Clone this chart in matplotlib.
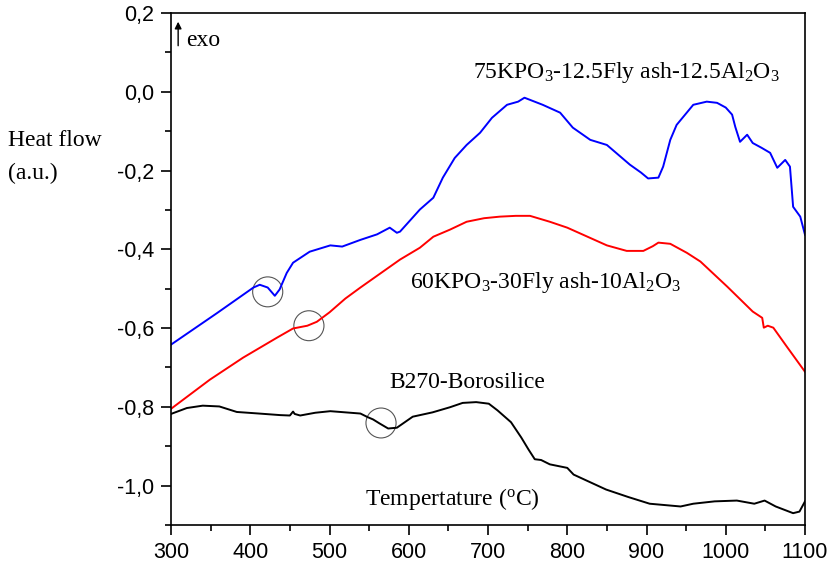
import matplotlib.pyplot as plt
from matplotlib.patches import Ellipse
from matplotlib.ticker import MultipleLocator, FuncFormatter

serif = 'Liberation Serif'
plt.rcParams['font.family'] = 'Liberation Sans'
plt.rcParams['mathtext.fontset'] = 'custom'
plt.rcParams['mathtext.rm'] = serif
plt.rcParams['mathtext.it'] = serif + ':italic'

# DSC traces, temperature in degC and heat flow in a.u.
blue_t = [300, 358, 404, 412, 422, 431, 437, 446, 454, 475, 501, 516, 539,
          560, 576, 585, 589, 614, 631, 643, 658, 673, 690, 705, 724, 738,
          746, 769, 791, 807, 829, 850, 879, 893, 902, 915, 921, 930, 938,
          959, 976, 989, 1000, 1008, 1012, 1018, 1027, 1034, 1045, 1056, 1065,
          1075, 1081, 1085, 1094, 1100]
blue_hf = [-0.642, -0.562, -0.497, -0.490, -0.497, -0.518, -0.502, -0.460,
           -0.434, -0.406, -0.390, -0.393, -0.376, -0.362, -0.345, -0.358,
           -0.355, -0.299, -0.269, -0.218, -0.168, -0.135, -0.104, -0.066,
           -0.033, -0.025, -0.015, -0.033, -0.053, -0.091, -0.122, -0.135,
           -0.185, -0.205, -0.220, -0.218, -0.190, -0.122, -0.084, -0.033,
           -0.025, -0.028, -0.040, -0.058, -0.089, -0.127, -0.109, -0.130,
           -0.142, -0.155, -0.193, -0.173, -0.190, -0.292, -0.317, -0.363]

red_t = [300, 349, 391, 434, 454, 472, 484, 500, 520, 539, 589, 614, 631,
         652, 673, 695, 715, 735, 753, 778, 800, 820, 850, 875, 896, 908,
         915, 930, 951, 968, 1002, 1034, 1046, 1048, 1053, 1060, 1077, 1100]
red_hf = [-0.805, -0.731, -0.675, -0.624, -0.601, -0.594, -0.584, -0.560,
          -0.525, -0.497, -0.426, -0.396, -0.368, -0.350, -0.330, -0.321,
          -0.317, -0.315, -0.315, -0.330, -0.345, -0.363, -0.390, -0.404,
          -0.404, -0.392, -0.383, -0.386, -0.409, -0.431, -0.495, -0.558,
          -0.574, -0.599, -0.594, -0.599, -0.647, -0.711]

black_t = [300, 320, 340, 361, 383, 411, 438, 450, 454, 456, 463, 482, 501,
           520, 539, 548, 555, 563, 574, 585, 605, 630, 652, 668, 685, 701,
           712, 729, 742, 751, 759, 767, 778, 800, 808, 822, 849, 877, 904,
           943, 959, 986, 1014, 1036, 1049, 1063, 1085, 1093, 1100]
black_hf = [-0.818, -0.803, -0.797, -0.799, -0.813, -0.817, -0.821, -0.822,
            -0.812, -0.818, -0.822, -0.815, -0.811, -0.814, -0.817, -0.826,
            -0.832, -0.842, -0.855, -0.853, -0.825, -0.814, -0.801, -0.790,
            -0.788, -0.792, -0.809, -0.839, -0.878, -0.908, -0.933, -0.935,
            -0.946, -0.955, -0.972, -0.985, -1.010, -1.029, -1.046, -1.053,
            -1.046, -1.040, -1.038, -1.046, -1.038, -1.053, -1.070, -1.066,
            -1.040]

# marked transitions (temperature, heat flow)
mark_t = [422, 474, 565]
mark_hf = [-0.508, -0.594, -0.841]

fig = plt.figure(figsize=(8.33, 5.67), dpi=100)
ax = fig.add_axes([0.2053, 0.0741, 0.7611, 0.9029])

ax.plot(blue_t, blue_hf, color='#0000ff', lw=1.4)
ax.plot(red_t, red_hf, color='#ff0000', lw=1.4)
ax.plot(black_t, black_hf, color='black', lw=1.4)

for t, h in zip(mark_t, mark_hf):
    ax.add_patch(Ellipse((t, h), 38, 0.076, fill=False, ec='#555555', lw=0.8))

ax.set_xlim(300, 1100)
ax.set_ylim(-1.1, 0.2)
ax.xaxis.set_major_locator(MultipleLocator(100))
ax.xaxis.set_minor_locator(MultipleLocator(50))
ax.yaxis.set_major_locator(MultipleLocator(0.2))
ax.yaxis.set_minor_locator(MultipleLocator(0.1))
ax.yaxis.set_major_formatter(FuncFormatter(lambda v, p: f'{v:.1f}'.replace('.', ',').replace('-0,0', '0,0')))
ax.tick_params(which='both', direction='out', top=False, right=False,
               width=1.2, labelsize=15.5, pad=5)
ax.tick_params(which='major', length=7)
ax.tick_params(which='minor', length=4)
for s in ax.spines.values():
    s.set_linewidth(1.2)

ax.text(681, 0.05, r'75KPO$_3$-12.5Fly ash-12.5Al$_2$O$_3$', family=serif,
        fontsize=17, va='center', ha='left')
ax.text(602, -0.485, r'60KPO$_3$-30Fly ash-10Al$_2$O$_3$', family=serif,
        fontsize=17, va='center', ha='left')
ax.text(575, -0.738, 'B270-Borosilice', family=serif, fontsize=17,
        va='center', ha='left')
ax.text(545, -1.035, r'Tempertature ($^\mathrm{o}$C)', family=serif,
        fontsize=17, va='center', ha='left')

ax.annotate('', xy=(309, 0.185), xytext=(309, 0.11),
            arrowprops=dict(arrowstyle='-|>', color='black', lw=1, mutation_scale=10))
ax.text(319, 0.13, 'exo', family=serif, fontsize=17, va='center', ha='left')

fig.text(0.010, 0.752, 'Heat flow', family=serif, fontsize=17, va='center')
fig.text(0.010, 0.694, '(a.u.)', family=serif, fontsize=17, va='center')

fig.savefig('out.png', dpi=100)
